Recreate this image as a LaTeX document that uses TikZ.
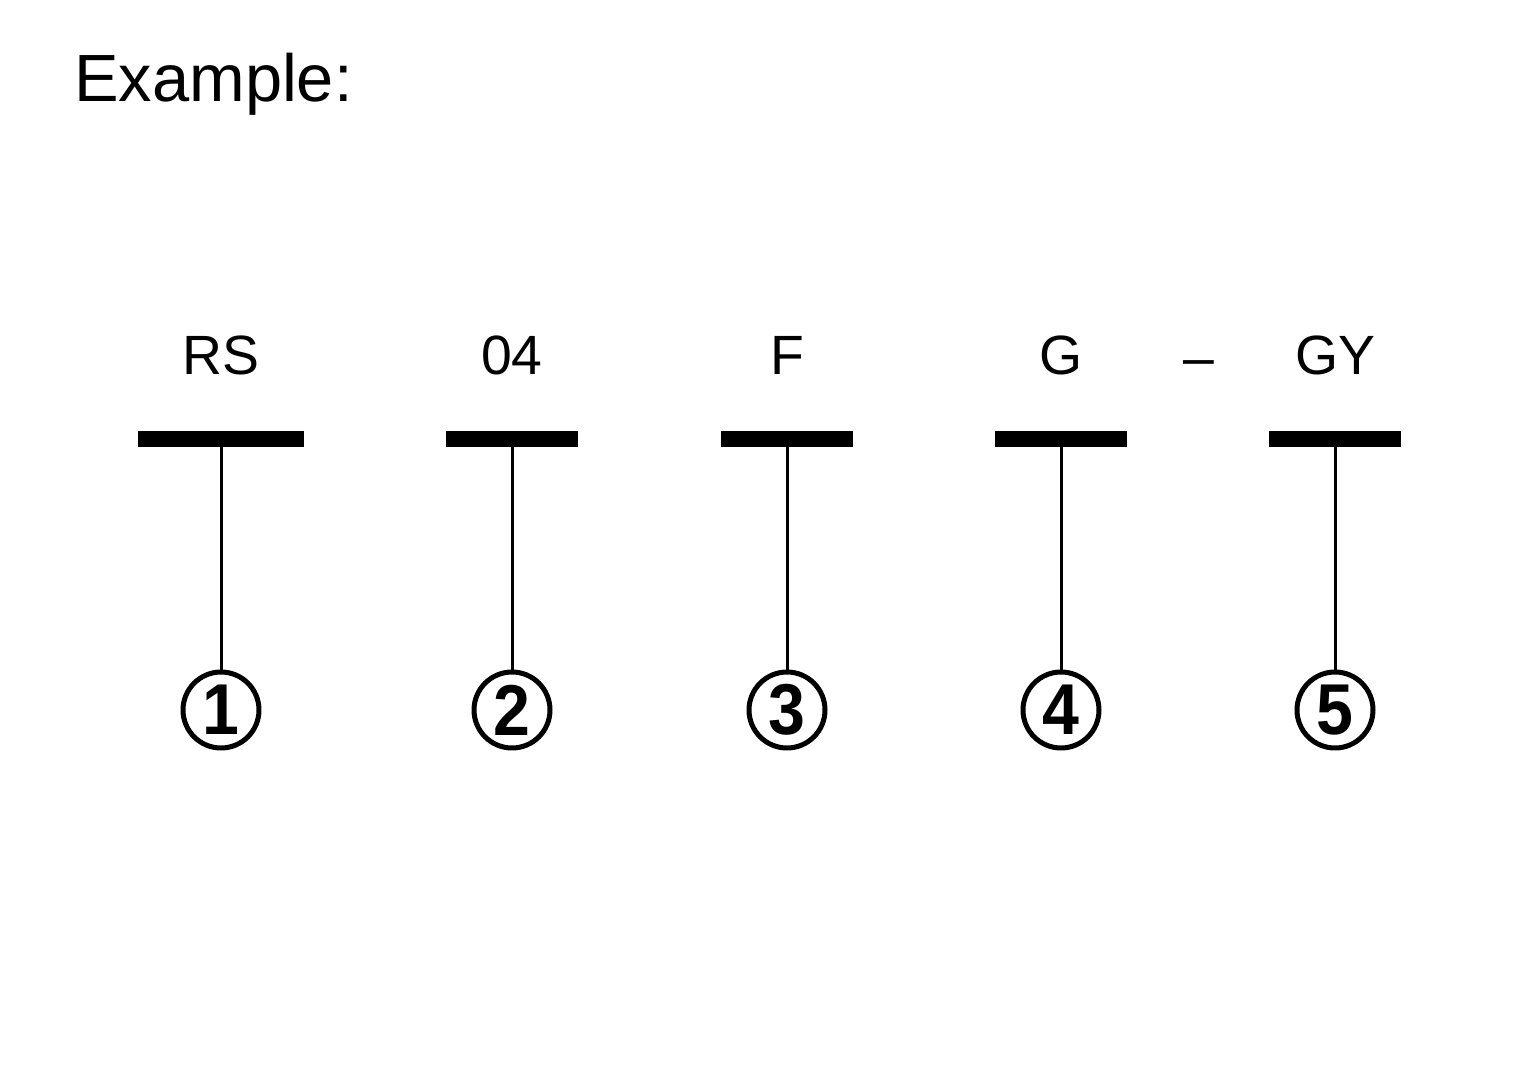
\documentclass[tikz,border=0pt]{standalone}
\usepackage{fontspec}
\setmainfont{Liberation Sans}
\newfontfamily\digitfont{Liberation Sans}
\begin{document}
\begin{tikzpicture}[x=0.02cm,y=-0.02cm,
  bar/.style={rectangle,fill=black,inner sep=0pt,minimum height=0.32cm,minimum width=2.64cm},
  numcirc/.style={circle,draw=black,line width=0.1cm,inner sep=0pt,minimum size=1.52cm,font=\digitfont\bfseries\fontsize{41}{41}\selectfont},
  lbl/.style={anchor=base,inner sep=0pt,font=\fontsize{31.5}{31.5}\selectfont},
  conn/.style={line width=0.06cm}]
\useasboundingbox (0,0) rectangle (1535,1087);
\node[anchor=base west,inner sep=0pt,font=\fontsize{38}{38}\selectfont] (title) at (74,102) {Example:};
\foreach \x/\t/\n [count=\i] in {221/RS/1,512/04/2,787/F/3,1061/G/4,1335/GY/5}{
  \node[lbl] (l\i) at (\x,375) {\t};
  \node[numcirc] (c\i) at (\x,710) {\scalebox{0.92}[1]{\n}};
}
\node[bar,minimum width=3.32cm] (b1) at (221,439) {};
\node[bar] (b2) at (512,439) {};
\node[bar] (b3) at (787,439) {};
\node[bar] (b4) at (1061,439) {};
\node[bar] (b5) at (1335,439) {};
\node[lbl] (dash) at (1199,377) {–};
\foreach \i in {1,...,5}{
  \draw[conn] (b\i.south) -- (c\i.north);
}
\end{tikzpicture}
\end{document}
